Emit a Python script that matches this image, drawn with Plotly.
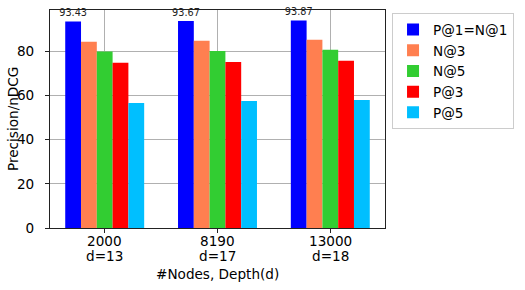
import plotly.graph_objects as go

node_counts = ["2000", "8190", "13000"]
depths = ["d=13", "d=17", "d=18"]
series_names = ["P@1=N@1", "N@3", "N@5", "P@3", "P@5"]
p1 = [93.43, 93.67, 93.87]
n3 = [84.2, 84.7, 85.1]
n5 = [79.8, 80.0, 80.6]
p3 = [74.7, 75.1, 75.6]
p5 = [56.5, 57.4, 57.9]
y_ticks = [0, 20, 40, 60, 80]
colors = ["#0000ff", "#ff7f50", "#32cd32", "#ff0000", "#00bfff"]

values = [p1, n3, n5, p3, p5]
xpos = list(range(len(node_counts)))
FONT = "DejaVu Sans"

fig = go.Figure()
for i, (name, vals) in enumerate(zip(series_names, values)):
    kw = {}
    if i == 0:
        kw = dict(text=[f"{v:.2f}" for v in vals], textposition="outside",
                  textfont=dict(size=9.7, color="#222222", family=FONT),
                  constraintext="none", cliponaxis=False, textangle=0)
    fig.add_trace(go.Bar(x=xpos, y=vals, name=name,
                         marker=dict(color=colors[i], line=dict(width=0)), **kw))

# x tick labels (two lines) and axis titles as annotations for tighter spacing
for x, nc, d in zip(xpos, node_counts, depths):
    fig.add_annotation(x=x, xref="x", y=0, yref="paper", text=nc, showarrow=False,
                       yanchor="middle", yshift=-13, font=dict(size=13.6, family=FONT, color="black"))
    fig.add_annotation(x=x, xref="x", y=0, yref="paper", text=d, showarrow=False,
                       yanchor="middle", yshift=-28, font=dict(size=13.6, family=FONT, color="black"))
fig.add_annotation(x=0.5, xref="paper", y=0, yref="paper", text="#Nodes, Depth(d)",
                   showarrow=False, yanchor="middle", yshift=-46,
                   font=dict(size=13.6, family=FONT, color="black"))
fig.add_annotation(x=0, xref="paper", y=0.5, yref="paper", text="Precision/nDCG",
                   showarrow=False, xanchor="center", yanchor="middle", xshift=-37,
                   textangle=-90, font=dict(size=13.6, family=FONT, color="black"))

fig.update_layout(
    width=525, height=290,
    margin=dict(l=50, r=140, t=10, b=62, autoexpand=False),
    barmode="group", bargap=0.3, bargroupgap=0,
    plot_bgcolor="white", paper_bgcolor="white",
    font=dict(family=FONT, size=13.6, color="black"),
    legend=dict(x=1.021, y=0.985, xanchor="left", yanchor="top",
                bordercolor="#cccccc", borderwidth=1, bgcolor="white",
                font=dict(size=13.6, family=FONT), itemwidth=30),
    xaxis=dict(range=[-0.485, 2.485], tickvals=xpos, showticklabels=False,
               showgrid=True, gridcolor="#b0b0b0", gridwidth=1,
               showline=True, linecolor="#222222", linewidth=1, mirror=True,
               ticks="outside", ticklen=4, tickcolor="#222222",
               zeroline=False),
    yaxis=dict(range=[0, 98.6], tickvals=y_ticks,
               showgrid=True, gridcolor="#b0b0b0", gridwidth=1,
               showline=True, linecolor="#222222", linewidth=1, mirror=True,
               ticks="outside", ticklen=4, tickcolor="#222222",
               ticklabelstandoff=8,
               tickfont=dict(size=13.6, family=FONT),
               zeroline=False),
)
fig.write_html("out.html", config={"displayModeBar": False},
               post_script="document.body.style.margin='0';document.body.style.overflow='hidden';")
